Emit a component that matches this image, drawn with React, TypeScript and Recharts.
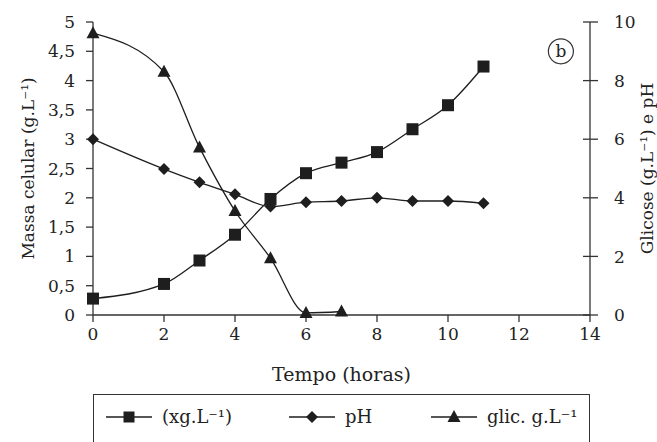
import { Legend, Line, LineChart, ReferenceDot, XAxis, YAxis } from 'recharts'

const tempo = [0, 2, 3, 4, 5, 6, 7, 8, 9, 10, 11]
const biomassa = [0.28, 0.53, 0.93, 1.37, 1.98, 2.42, 2.6, 2.78, 3.17, 3.58, 4.24]
const ph = [6.0, 4.98, 4.53, 4.12, 3.7, 3.85, 3.89, 4.0, 3.89, 3.89, 3.81]
const glicose = [9.62, 8.3, 5.72, 3.55, 1.94, 0.07, 0.12]

const xTicks = [0, 2, 4, 6, 8, 10, 12, 14]
const leftTicks = [0, 0.5, 1, 1.5, 2, 2.5, 3, 3.5, 4, 4.5, 5]
const rightTicks = [0, 2, 4, 6, 8, 10]

const seriesOrder = ['biomassa', 'ph', 'glicose']
const seriesNames = { biomassa: '(xg.L⁻¹)', ph: 'pH', glicose: 'glic. g.L⁻¹' }

const rows = tempo.map((t, i) => ({ t, biomassa: biomassa[i], ph: ph[i], glicose: glicose[i] }))

const INK = '#1e1e1e'
const AXIS = '#333'
const FONT = "'DejaVu Serif', serif"

function Square({ cx, cy, index }: any) {
  if (cx == null || cy == null) return <g key={`s-${index}`} />
  return <rect key={`s-${index}`} x={cx - 6} y={cy - 6} width={12} height={12} fill={INK} />
}

function Diamond({ cx, cy, index }: any) {
  if (cx == null || cy == null) return <g key={`d-${index}`} />
  return <path key={`d-${index}`} d={`M${cx},${cy - 6}L${cx + 6},${cy}L${cx},${cy + 6}L${cx - 6},${cy}Z`} fill={INK} />
}

function Triangle({ cx, cy, index }: any) {
  if (cx == null || cy == null) return <g key={`t-${index}`} />
  return <path key={`t-${index}`} d={`M${cx},${cy - 7}L${cx + 6.5},${cy + 5}L${cx - 6.5},${cy + 5}Z`} fill={INK} />
}

// right axis ticks cross the axis line on both sides
function RightTick({ x, y, payload }: any) {
  return (
    <g>
      <line x1={x - 31} x2={x - 16} y1={y} y2={y} stroke={AXIS} strokeWidth={1.3} />
      <text x={x} y={y} dy="0.36em" textAnchor="start" fill="#222" fontSize={17} fontFamily={FONT}>{payload.value}</text>
    </g>
  )
}

const legendIcons: Record<string, (cx: number, cy: number) => any> = {
  biomassa: (cx, cy) => <rect x={cx - 5.5} y={cy - 5.5} width={11} height={11} fill={INK} />,
  ph: (cx, cy) => <path d={`M${cx},${cy - 6}L${cx + 6},${cy}L${cx},${cy + 6}L${cx - 6},${cy}Z`} fill={INK} />,
  glicose: (cx, cy) => <path d={`M${cx},${cy - 7}L${cx + 6.5},${cy + 5}L${cx - 6.5},${cy + 5}Z`} fill={INK} />,
}
const legendLeft = [12, 195, 337]

function ChartLegend({ payload }: any) {
  const items = seriesOrder.map((key) => (payload ?? []).find((p: any) => p.dataKey === key)).filter(Boolean)
  return (
    <div style={{ position: 'relative', width: 497, height: 60, border: `1.3px solid ${AXIS}`, boxSizing: 'border-box', fontFamily: FONT, fontSize: 18, color: '#222' }}>
      {items.map((item: any, i: number) => (
        <div key={item.dataKey} style={{ position: 'absolute', left: legendLeft[i], top: 11, display: 'flex', alignItems: 'center', whiteSpace: 'nowrap' }}>
          <svg width={46} height={22}>
            <line x1={0} x2={46} y1={11} y2={11} stroke={INK} strokeWidth={1.3} />
            {legendIcons[item.dataKey](23, 11)}
          </svg>
          <span style={{ marginLeft: 10, lineHeight: '22px' }}>{item.value}</span>
        </div>
      ))}
    </div>
  )
}

export default function App() {
  return (
    <div style={{ width: 657, height: 442, background: '#fff', fontFamily: FONT }}>
      <style>{'body{margin:0}'}</style>
      <LineChart width={657} height={442} data={rows} margin={{ top: 22, right: 7, left: 33, bottom: 57 }}>
        <XAxis dataKey="t" type="number" domain={[0, 14]} ticks={xTicks} height={70}
          axisLine={{ stroke: AXIS, strokeWidth: 1.3 }} tickLine={{ stroke: AXIS, strokeWidth: 1.3 }}
          tickSize={7} tickMargin={6} tick={{ fill: '#222', fontSize: 17, fontFamily: FONT }}
          label={{ value: 'Tempo (horas)', position: 'insideBottom', offset: 4, fill: '#222', fontSize: 19, fontFamily: FONT }} />
        <YAxis yAxisId="left" domain={[0, 5]} ticks={leftTicks} width={60} interval={0}
          tickFormatter={(v: number) => String(v).replace('.', ',')}
          axisLine={{ stroke: AXIS, strokeWidth: 1.3 }} tickLine={{ stroke: AXIS, strokeWidth: 1.3 }}
          tickSize={7} tickMargin={11} tick={{ fill: '#222', fontSize: 17, fontFamily: FONT }}
          label={{ value: 'Massa celular (g.L⁻¹)', angle: -90, position: 'insideLeft', offset: -5, fill: '#222', fontSize: 17, fontFamily: FONT, style: { textAnchor: 'middle' } }} />
        <YAxis yAxisId="right" orientation="right" domain={[0, 10]} ticks={rightTicks} width={60} interval={0}
          axisLine={{ stroke: AXIS, strokeWidth: 1.3 }} tickLine={false}
          tickSize={8} tickMargin={16} tick={<RightTick />}
          label={{ value: 'Glicose (g.L⁻¹) e pH', angle: -90, position: 'insideRight', offset: 3, fill: '#222', fontSize: 17, fontFamily: FONT, style: { textAnchor: 'middle' } }} />
        <Legend verticalAlign="middle" layout="horizontal" content={<ChartLegend />} wrapperStyle={{ left: 93, top: 394, width: 497, height: 60 }} />
        <Line yAxisId="left" name={seriesNames.biomassa} dataKey="biomassa" type="monotone" stroke={INK} strokeWidth={1.3} dot={Square} activeDot={false} isAnimationActive={false} />
        <Line yAxisId="right" name={seriesNames.ph} dataKey="ph" type="monotone" stroke={INK} strokeWidth={1.3} dot={Diamond} activeDot={false} isAnimationActive={false} />
        <Line yAxisId="right" name={seriesNames.glicose} dataKey="glicose" type="monotone" stroke={INK} strokeWidth={1.3} dot={Triangle} activeDot={false} connectNulls={false} isAnimationActive={false} />
        <ReferenceDot yAxisId="right" x={13.18} y={9} r={12.5} fill="#fff" stroke={AXIS} strokeWidth={1.2}
          label={{ value: 'b', position: 'center', fill: '#222', fontSize: 17, fontFamily: FONT }} />
      </LineChart>
    </div>
  )
}
